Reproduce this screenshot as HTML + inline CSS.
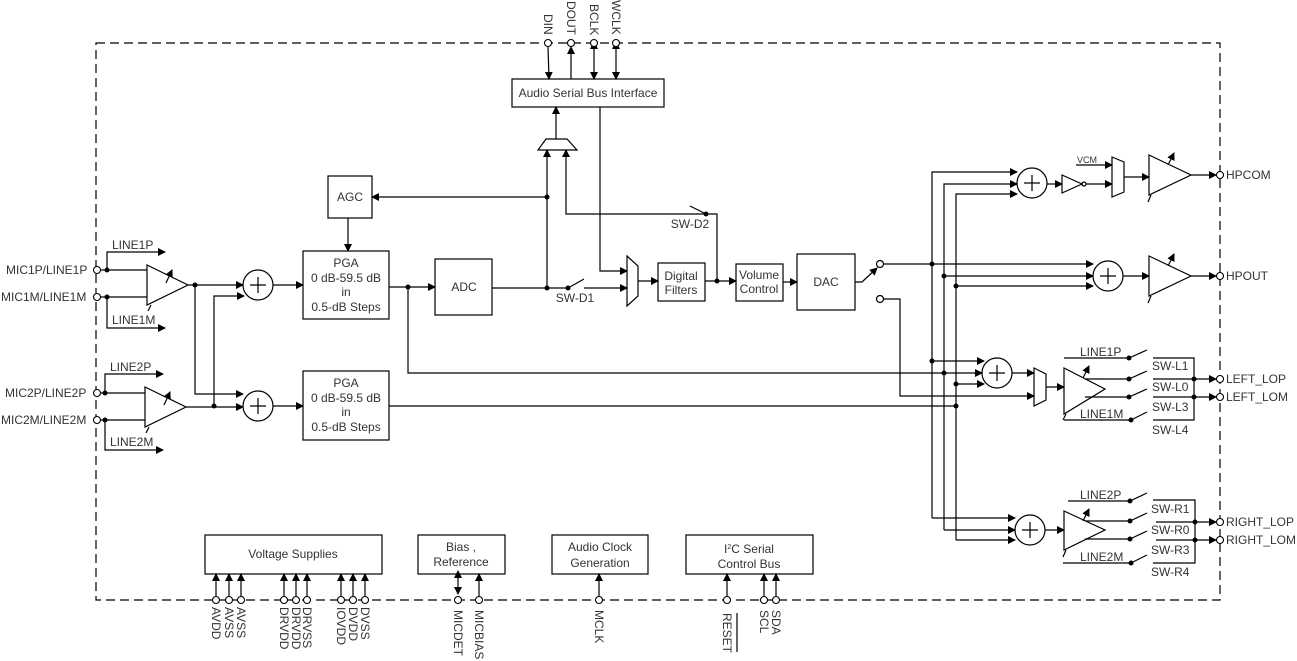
<!DOCTYPE html>
<html><head><meta charset="utf-8"><style>
html,body{margin:0;padding:0;background:#fff;}
svg{display:block;font-family:"Liberation Sans",Arial,sans-serif;font-size:12px;fill:#333;}
</style></head><body>
<svg width="1297" height="661" viewBox="0 0 1297 661" xmlns="http://www.w3.org/2000/svg">
<defs>
<marker id="a" markerWidth="8" markerHeight="8" refX="7" refY="4" orient="auto" markerUnits="userSpaceOnUse"><path d="M0,0 L8,4 L0,8 z" fill="#000"/></marker>
<marker id="s" markerWidth="8" markerHeight="8" refX="1" refY="4" orient="auto-start-reverse" markerUnits="userSpaceOnUse"><path d="M0,0 L8,4 L0,8 z" fill="#000"/></marker>
</defs>
<g stroke="#000" stroke-width="1.2" fill="none">
<rect x="96" y="43" width="1124" height="557" stroke-dasharray="9,5"/>
</g>
<g stroke="#000" stroke-width="1.2" fill="none">
<rect x="512" y="79" width="152" height="28" fill="#fff"/>
<line x1="548" y1="47" x2="549" y2="79" marker-end="url(#a)"/>
<line x1="571" y1="79" x2="571" y2="47" marker-end="url(#a)"/>
<line x1="594" y1="48" x2="594" y2="79" marker-end="url(#a)" marker-start="url(#s)"/>
<line x1="616" y1="48" x2="616" y2="79" marker-end="url(#a)" marker-start="url(#s)"/>
<path d="M546,139 L567,139 L577,150 L538,150 Z"/>
<line x1="556" y1="139" x2="556" y2="107" marker-end="url(#a)"/>
<line x1="547" y1="288" x2="547" y2="150" marker-end="url(#a)"/>
<path d="M706,214 L566,214 L566,150" marker-end="url(#a)"/>
<line x1="706" y1="214" x2="690" y2="206"/>
<path d="M706,214 L717,214 L717,281"/>
<path d="M600,107 L600,271 L627,271" marker-end="url(#a)"/>
<rect x="328" y="176" width="44" height="42"/>
<line x1="547" y1="197" x2="372" y2="197" marker-end="url(#a)"/>
<line x1="348" y1="218" x2="348" y2="251" marker-end="url(#a)"/>
<rect x="303" y="251" width="86" height="68"/>
<rect x="303" y="371" width="86" height="69"/>
<rect x="435" y="259" width="57" height="56"/>
<line x1="389" y1="287" x2="435" y2="287" marker-end="url(#a)"/>
<line x1="492" y1="288" x2="568" y2="288"/>
<line x1="568" y1="288" x2="584" y2="279"/>
<line x1="584" y1="288" x2="627" y2="288" marker-end="url(#a)"/>
<path d="M627,256 L638,266 L638,296 L627,306 Z"/>
<line x1="638" y1="281" x2="658" y2="281" marker-end="url(#a)"/>
<rect x="658" y="263" width="47" height="38"/>
<line x1="705" y1="281" x2="736" y2="281" marker-end="url(#a)"/>
<rect x="736" y="264" width="47" height="37"/>
<line x1="783" y1="282" x2="797" y2="282" marker-end="url(#a)"/>
<rect x="797" y="254" width="58" height="56"/>
<path d="M107,270 L107,252 L165,252" marker-end="url(#a)"/>
<path d="M107,297 L107,328 L165,328" marker-end="url(#a)"/>
<line x1="101" y1="270" x2="147" y2="270"/>
<line x1="101" y1="297" x2="147" y2="297"/>
<path d="M147,265 L188,285 L147,305 Z"/>
<line x1="166" y1="283" x2="172" y2="270" marker-end="url(#a)"/>
<line x1="151" y1="305" x2="148" y2="311"/>
<line x1="188" y1="285" x2="243" y2="285" marker-end="url(#a)"/>
<circle cx="258" cy="285" r="15"/>
<path d="M250,285 h16 M258,277 v16"/>
<path d="M195,285 L195,394 L243,394" marker-end="url(#a)"/>
<path d="M214,406 L214,296 L244,296" marker-end="url(#a)"/>
<line x1="273" y1="285" x2="303" y2="285" marker-end="url(#a)"/>
<path d="M105,393 L105,374 L163,374" marker-end="url(#a)"/>
<path d="M105,420 L105,450 L163,450" marker-end="url(#a)"/>
<line x1="101" y1="393" x2="145" y2="393"/>
<line x1="101" y1="420" x2="145" y2="420"/>
<path d="M145,387 L186,407 L145,427 Z"/>
<line x1="164" y1="405" x2="170" y2="392" marker-end="url(#a)"/>
<line x1="149" y1="427" x2="146" y2="433"/>
<line x1="186" y1="407" x2="243" y2="407" marker-end="url(#a)"/>
<circle cx="258" cy="406" r="15"/>
<path d="M250,406 h16 M258,398 v16"/>
<line x1="273" y1="406" x2="303" y2="406" marker-end="url(#a)"/>
<path d="M408,287 L408,373 L982,373" marker-end="url(#a)"/>
<line x1="389" y1="406" x2="956" y2="406"/>
<path d="M855,282 L862,282 L877,268" marker-end="url(#a)"/>
<circle cx="880" cy="264" r="3.5" fill="#fff"/>
<circle cx="880" cy="299" r="3.5" fill="#fff"/>
<line x1="884" y1="264" x2="1093" y2="264" marker-end="url(#a)"/>
<path d="M884,299 L900,299 L900,396 L1034,396" marker-end="url(#a)"/>
<path d="M932,518 L932,172 L1017,172" marker-end="url(#a)"/>
<path d="M944,530 L944,184 L1017,184" marker-end="url(#a)"/>
<path d="M956,540 L956,194 L1017,194" marker-end="url(#a)"/>
<line x1="944" y1="276" x2="1093" y2="276" marker-end="url(#a)"/>
<line x1="956" y1="286" x2="1093" y2="286" marker-end="url(#a)"/>
<line x1="932" y1="361" x2="984" y2="361" marker-end="url(#a)"/>
<line x1="956" y1="384" x2="984" y2="384" marker-end="url(#a)"/>
<line x1="932" y1="518" x2="1015" y2="518" marker-end="url(#a)"/>
<line x1="944" y1="530" x2="1015" y2="530" marker-end="url(#a)"/>
<line x1="956" y1="540" x2="1015" y2="540" marker-end="url(#a)"/>
<circle cx="1032" cy="183" r="15"/>
<path d="M1024,183 h16 M1032,175 v16"/>
<line x1="1047" y1="184" x2="1062" y2="184" marker-end="url(#a)"/>
<path d="M1062,175 L1082,184 L1062,193 Z"/>
<circle cx="1084" cy="184" r="2"/>
<line x1="1086" y1="184" x2="1112" y2="184" marker-end="url(#a)"/>
<line x1="1076" y1="165" x2="1112" y2="165" marker-end="url(#a)"/>
<path d="M1112,157 L1124,162 L1124,192 L1112,197 Z"/>
<line x1="1124" y1="177" x2="1149" y2="177" marker-end="url(#a)"/>
<path d="M1149,155 L1191,175 L1149,195 Z"/>
<line x1="1168" y1="165" x2="1174" y2="153" marker-end="url(#a)"/>
<line x1="1151" y1="195" x2="1148" y2="202"/>
<line x1="1191" y1="175" x2="1216" y2="175" marker-end="url(#a)"/>
<circle cx="1108" cy="276" r="15"/>
<path d="M1100,276 h16 M1108,268 v16"/>
<line x1="1123" y1="276" x2="1149" y2="276" marker-end="url(#a)"/>
<path d="M1149,256 L1191,276 L1149,296 Z"/>
<line x1="1168" y1="266" x2="1174" y2="254" marker-end="url(#a)"/>
<line x1="1151" y1="296" x2="1148" y2="303"/>
<line x1="1191" y1="276" x2="1216" y2="276" marker-end="url(#a)"/>
<circle cx="997" cy="373" r="15"/>
<path d="M989,373 h16 M997,365 v16"/>
<line x1="1012" y1="373" x2="1034" y2="373" marker-end="url(#a)"/>
<path d="M1034,368 L1046,374 L1046,400 L1034,406 Z"/>
<line x1="1046" y1="387" x2="1064" y2="387" marker-end="url(#a)"/>
<path d="M1064,368 L1105,389 L1064,414 Z"/>
<line x1="1083" y1="378" x2="1089" y2="366" marker-end="url(#a)"/>
<line x1="1066" y1="414" x2="1063" y2="420"/>
<line x1="1064" y1="358" x2="1129" y2="358"/>
<line x1="1085" y1="379" x2="1129" y2="379"/>
<line x1="1085" y1="397" x2="1129" y2="397"/>
<line x1="1064" y1="420" x2="1131" y2="420"/>
<path d="M1129,358 L1147,350 M1129,379 L1147,371 M1129,397 L1147,389 M1131,420 L1147,412"/>
<path d="M1153,358 L1194,358 L1194,420 L1153,420 M1153,379 L1194,379 M1153,397 L1194,397"/>
<line x1="1194" y1="379" x2="1216" y2="379" marker-end="url(#a)"/>
<line x1="1194" y1="397" x2="1216" y2="397" marker-end="url(#a)"/>
<circle cx="1030" cy="530" r="15"/>
<path d="M1022,530 h16 M1030,522 v16"/>
<line x1="1045" y1="530" x2="1064" y2="530" marker-end="url(#a)"/>
<path d="M1064,511 L1105,530 L1064,550 Z"/>
<line x1="1083" y1="521" x2="1089" y2="509" marker-end="url(#a)"/>
<line x1="1066" y1="550" x2="1063" y2="557"/>
<line x1="1068" y1="501" x2="1130" y2="501"/>
<line x1="1085" y1="521" x2="1130" y2="521"/>
<line x1="1085" y1="539" x2="1130" y2="539"/>
<line x1="1063" y1="563" x2="1131" y2="563"/>
<path d="M1130,501 L1147,493 M1130,521 L1147,513 M1130,539 L1147,531 M1131,563 L1147,555"/>
<path d="M1153,500 L1195,500 L1195,563 L1153,563 M1156,522 L1195,522 M1156,540 L1195,540"/>
<line x1="1195" y1="522" x2="1216" y2="522" marker-end="url(#a)"/>
<line x1="1195" y1="540" x2="1216" y2="540" marker-end="url(#a)"/>
<rect x="205" y="535" width="177" height="39"/>
<rect x="418" y="535" width="87" height="39"/>
<rect x="552" y="535" width="96" height="39"/>
<rect x="686" y="535" width="127" height="39"/>
<g marker-end="url(#a)">
<line x1="216" y1="596" x2="216" y2="574"/><line x1="229" y1="596" x2="229" y2="574"/><line x1="241" y1="596" x2="241" y2="574"/>
<line x1="284" y1="596" x2="284" y2="574"/><line x1="296" y1="596" x2="296" y2="574"/><line x1="307" y1="596" x2="307" y2="574"/>
<line x1="341" y1="596" x2="341" y2="574"/><line x1="353" y1="596" x2="353" y2="574"/><line x1="365" y1="596" x2="365" y2="574"/>
<line x1="479" y1="596" x2="479" y2="574"/><line x1="599" y1="596" x2="599" y2="574"/>
<line x1="727" y1="596" x2="727" y2="574"/><line x1="764" y1="596" x2="764" y2="574"/><line x1="776" y1="596" x2="776" y2="574"/>
</g>
<line x1="458" y1="577" x2="458" y2="594" marker-end="url(#a)" marker-start="url(#s)"/>
<line x1="737" y1="613" x2="737" y2="652"/>
</g>
<g stroke="#000" stroke-width="1.1" fill="#fff">
<circle cx="548" cy="43" r="3.5"/><circle cx="571" cy="43" r="3.5"/><circle cx="594" cy="43" r="3.5"/><circle cx="616" cy="43" r="3.5"/>
<circle cx="97" cy="270" r="3.5"/><circle cx="97" cy="297" r="3.5"/><circle cx="97" cy="393" r="3.5"/><circle cx="97" cy="420" r="3.5"/>
<circle cx="1220" cy="175" r="3.5"/><circle cx="1220" cy="276" r="3.5"/><circle cx="1220" cy="379" r="3.5"/><circle cx="1220" cy="397" r="3.5"/><circle cx="1220" cy="522" r="3.5"/><circle cx="1220" cy="540" r="3.5"/>
<circle cx="216" cy="600" r="3.5"/><circle cx="229" cy="600" r="3.5"/><circle cx="241" cy="600" r="3.5"/><circle cx="284" cy="600" r="3.5"/><circle cx="296" cy="600" r="3.5"/><circle cx="307" cy="600" r="3.5"/><circle cx="341" cy="600" r="3.5"/><circle cx="353" cy="600" r="3.5"/><circle cx="365" cy="600" r="3.5"/>
<circle cx="458" cy="600" r="3.5"/><circle cx="479" cy="600" r="3.5"/><circle cx="599" cy="600" r="3.5"/><circle cx="727" cy="600" r="3.5"/><circle cx="764" cy="600" r="3.5"/><circle cx="776" cy="600" r="3.5"/>
</g>
<g fill="#000">
<circle cx="107" cy="270" r="2.5"/><circle cx="107" cy="297" r="2.5"/><circle cx="105" cy="393" r="2.5"/><circle cx="105" cy="420" r="2.5"/>
<circle cx="195" cy="285" r="2.5"/><circle cx="214" cy="406" r="2.5"/><circle cx="408" cy="287" r="2.5"/>
<circle cx="547" cy="197" r="2.5"/><circle cx="547" cy="288" r="2.5"/><circle cx="568" cy="288" r="2.5"/><circle cx="706" cy="214" r="2.5"/><circle cx="717" cy="281" r="2.5"/>
<circle cx="932" cy="264" r="2.5"/><circle cx="944" cy="276" r="2.5"/><circle cx="956" cy="286" r="2.5"/>
<circle cx="932" cy="361" r="2.5"/><circle cx="944" cy="373" r="2.5"/><circle cx="956" cy="384" r="2.5"/><circle cx="956" cy="406" r="2.5"/>
<circle cx="1129" cy="358" r="2.5"/><circle cx="1129" cy="379" r="2.5"/><circle cx="1129" cy="397" r="2.5"/><circle cx="1131" cy="420" r="2.5"/>
<circle cx="1194" cy="379" r="2.5"/><circle cx="1194" cy="397" r="2.5"/>
<circle cx="1130" cy="501" r="2.5"/><circle cx="1130" cy="521" r="2.5"/><circle cx="1130" cy="539" r="2.5"/><circle cx="1131" cy="563" r="2.5"/>
<circle cx="1195" cy="522" r="2.5"/><circle cx="1195" cy="540" r="2.5"/>
</g>
<g text-anchor="middle">
<text x="588" y="97">Audio Serial Bus Interface</text>
<text x="350" y="201">AGC</text>
<text x="346" y="267">PGA</text><text x="346" y="282">0 dB-59.5 dB</text><text x="346" y="296">in</text><text x="346" y="311">0.5-dB Steps</text>
<text x="346" y="387">PGA</text><text x="346" y="402">0 dB-59.5 dB</text><text x="346" y="416">in</text><text x="346" y="431">0.5-dB Steps</text>
<text x="464" y="291">ADC</text>
<text x="681" y="280">Digital</text><text x="681" y="294">Filters</text>
<text x="759" y="279">Volume</text><text x="759" y="293">Control</text>
<text x="826" y="286">DAC</text>
<text x="575" y="302">SW-D1</text>
<text x="690" y="228">SW-D2</text>
<text x="293" y="558">Voltage Supplies</text>
<text x="461" y="551">Bias ,</text><text x="461" y="566">Reference</text>
<text x="600" y="551">Audio Clock</text><text x="600" y="567">Generation</text>
<text x="749" y="553">I<tspan font-size="7" dy="-4">2</tspan><tspan dy="4">C Serial</tspan></text><text x="749" y="568">Control Bus</text>
</g>
<g>
<text x="6" y="274">MIC1P/LINE1P</text>
<text x="1" y="301">MIC1M/LINE1M</text>
<text x="5" y="397">MIC2P/LINE2P</text>
<text x="1" y="424">MIC2M/LINE2M</text>
<text x="112" y="249">LINE1P</text>
<text x="112" y="324">LINE1M</text>
<text x="110" y="371">LINE2P</text>
<text x="110" y="446">LINE2M</text>
<text x="1077" y="163" font-size="9">VCM</text>
<text x="1226" y="179">HPCOM</text>
<text x="1226" y="280">HPOUT</text>
<text x="1226" y="383">LEFT_LOP</text>
<text x="1226" y="401">LEFT_LOM</text>
<text x="1226" y="526">RIGHT_LOP</text>
<text x="1226" y="544">RIGHT_LOM</text>
<text x="1080" y="356">LINE1P</text>
<text x="1080" y="418">LINE1M</text>
<text x="1080" y="499">LINE2P</text>
<text x="1080" y="561">LINE2M</text>
<text x="1152" y="370">SW-L1</text><text x="1152" y="391">SW-L0</text><text x="1152" y="411">SW-L3</text><text x="1152" y="434">SW-L4</text>
<text x="1151" y="513">SW-R1</text><text x="1151" y="534">SW-R0</text><text x="1151" y="554">SW-R3</text><text x="1151" y="576">SW-R4</text>
</g>
<g>
<text transform="translate(544,14) rotate(90)">DIN</text>
<text transform="translate(567,1) rotate(90)">DOUT</text>
<text transform="translate(590,4) rotate(90)">BCLK</text>
<text transform="translate(612,0) rotate(90)">WCLK</text>
<text transform="translate(212,607) rotate(90)">AVDD</text>
<text transform="translate(225,607) rotate(90)">AVSS</text>
<text transform="translate(237,607) rotate(90)">AVSS</text>
<text transform="translate(280,607) rotate(90)">DRVDD</text>
<text transform="translate(292,607) rotate(90)">DRVDD</text>
<text transform="translate(303,607) rotate(90)">DRVSS</text>
<text transform="translate(337,607) rotate(90)">IOVDD</text>
<text transform="translate(349,607) rotate(90)">DVDD</text>
<text transform="translate(361,607) rotate(90)">DVSS</text>
<text transform="translate(454,610) rotate(90)">MICDET</text>
<text transform="translate(475,610) rotate(90)">MICBIAS</text>
<text transform="translate(595,610) rotate(90)">MCLK</text>
<text transform="translate(723,613) rotate(90)">RESET</text>
<text transform="translate(760,610) rotate(90)">SCL</text>
<text transform="translate(772,610) rotate(90)">SDA</text>
</g>
</svg>
</body></html>
